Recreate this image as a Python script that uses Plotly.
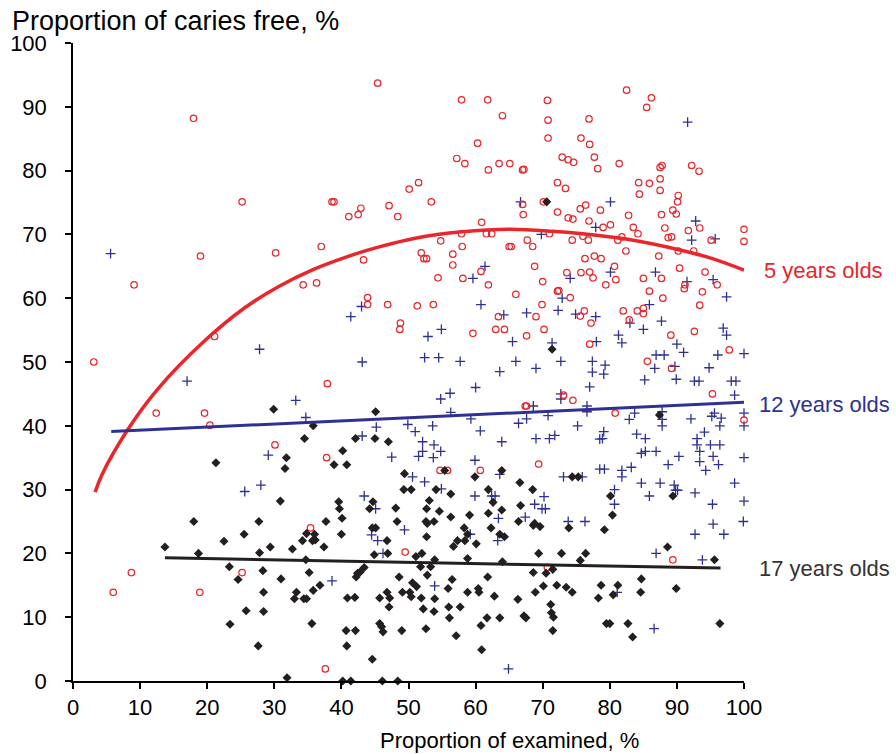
import plotly.graph_objects as go

# ---------------- data ----------------
red_pts = [
    (17.96,88.2),(25.2,75.1),(19.0,66.6),
    (45.4,93.7),(50.1,77.1),(38.6,75.1),(38.9,75.1),(42.9,74.1),(47.1,74.5),(41.1,72.8),(42.5,73.1),(48.4,72.8),(37.0,68.1),(30.2,67.1),(43.3,66.0),
    (57.9,91.1),(61.8,91.1),(70.7,91.0),(64.0,88.6),(70.8,87.9),(70.8,85.1),(75.7,85.1),(60.3,84.3),(57.2,81.9),(58.4,81.1),(61.9,80.1),(63.5,81.1),(65.1,81.1),(67.0,80.1),(67.2,80.2),(72.9,82.1),(73.8,81.7),(74.6,81.3),(51.5,78.1),(72.2,78.1),(73.4,77.2),(53.4,75.1),(67.0,74.7),(70.1,75.1),(67.1,73.1),(72.2,73.5),(75.6,74.0),(73.8,72.6),(74.5,72.4),(60.9,71.9),(57.9,70.1),(61.6,70.1),(62.4,70.1),(71.0,70.1),(54.8,69.0),(58.0,68.1),(65.0,68.1),(65.3,68.1),(67.7,69.1),(68.5,68.1),(74.4,69.1),(51.9,67.1),(52.3,66.2),(52.7,66.2),(56.6,66.9),
    (82.5,92.6),(86.2,91.4),(85.5,89.9),(76.9,88.1),(77.0,84.1),(77.7,82.1),(78.2,80.3),(81.4,81.1),(87.5,80.5),(87.8,80.8),(92.2,80.8),(93.3,79.9),(84.3,78.1),(85.9,78.0),(87.5,78.7),(84.4,76.3),(87.5,76.9),(90.2,76.1),(90.1,75.1),(76.4,74.6),(78.6,73.8),(82.8,73.0),(87.7,73.1),(89.4,73.8),(89.9,73.2),(76.9,72.1),(79.0,71.1),(80.1,71.5),(83.5,71.1),(84.2,70.1),(88.2,71.0),(91.7,70.6),(93.4,71.0),(100.0,70.8),(100.0,68.9),(76.0,69.7),(76.8,69.1),(81.2,69.1),(81.8,69.6),(88.7,69.5),(89.2,69.6),(95.1,69.1),(82.4,67.4),(90.2,67.4),(92.5,67.4),(77.7,66.6),(78.7,66.2),(87.3,66.6),(76.3,66.2),
    (9.1,62.1),(21.1,54.0),(3.1,50.0),(12.4,42.0),(19.6,42.0),(20.4,40.1),
    (34.3,62.1),(36.3,62.4),(43.9,60.1),(43.9,59.0),(46.9,59.0),(48.8,56.1),(48.7,55.1),(37.9,46.6),(30.1,37.0),(37.8,35.0),
    (56.6,65.2),(60.8,64.2),(68.8,65.0),(73.6,64.0),(75.7,64.0),(54.4,63.2),(58.1,63.1),(70.0,62.6),(61.9,62.1),(72.2,61.1),(72.4,61.2),(66.0,60.6),(74.1,60.1),(51.3,58.8),(53.7,59.0),(69.9,59.0),(63.4,57.1),(69.0,57.1),(75.6,57.2),(59.6,54.5),(63.0,55.1),(64.3,55.1),(67.6,54.1),(70.2,55.1),(73.1,44.8),(74.5,44.0),(67.4,43.1),(67.6,43.1),(69.4,34.0),(54.7,33.0),(55.8,33.0),(60.7,33.0),
    (77.0,64.1),(77.5,63.2),(80.7,65.0),(80.9,62.9),(79.4,62.1),(85.0,63.1),(87.7,63.1),(90.4,64.7),(94.2,64.1),(96.0,62.1),(91.2,62.1),(91.1,61.5),(93.8,61.0),(85.9,61.1),(87.9,60.0),(93.4,58.9),(76.2,58.0),(77.2,56.1),(82.0,58.0),(84.1,58.0),(85.0,58.4),(85.0,57.6),(82.9,56.6),(77.0,52.8),(89.1,54.2),(92.6,54.8),(97.8,51.9),(85.6,50.1),(89.2,49.0),(95.3,45.0),(80.8,42.0),(100.0,40.9),
    (8.7,17.0),(6.0,13.9),(18.9,13.9),(25.2,17.0),
    (35.4,24.0),(49.5,20.2),(37.6,1.9),(70.7,17.8),(89.4,19.0),
]
blue_pts = [
    (5.6,67.0),(66.7,75.1),(69.8,70.0),(91.6,87.6),(80.1,75.1),(77.9,71.1),(92.8,72.1),(92.2,69.1),(95.7,69.3),
    (17.0,47.0),
    (43.0,58.7),(41.4,57.1),(27.8,52.0),(43.1,50.0),(33.2,44.0),(34.7,41.3),(45.2,39.8),(49.9,40.2),(43.1,38.4),(29.1,35.4),(47.5,35.1),
    (61.4,65.0),(59.6,63.1),(74.1,63.1),(60.8,59.0),(72.9,60.0),(64.2,57.4),(67.6,57.7),(72.3,58.1),(74.9,57.5),(54.9,55.1),(52.9,54.0),(65.5,53.2),(71.4,53.0),(52.4,50.7),(54.5,50.7),(57.7,50.1),(66.0,50.1),(72.7,50.1),(63.6,48.5),(69.0,49.0),(60.0,46.0),(56.2,45.1),(54.8,44.2),(72.7,45.0),(72.7,44.2),(68.6,43.1),(56.3,42.1),(59.3,41.1),(67.6,41.1),(70.8,41.6),(53.6,40.0),(66.4,40.4),(75.2,40.0),(51.0,39.1),(60.7,39.2),(52.1,37.5),(53.8,37.0),(69.0,38.0),(71.0,38.0),(71.8,38.5),(63.9,37.5),(52.1,36.0),(54.8,36.0),(51.5,35.2),(53.7,35.0),(59.9,34.6),
    (80.1,64.1),(86.8,64.1),(91.5,62.6),(95.4,62.9),(97.4,60.2),(85.9,59.0),(77.9,57.1),(83.0,56.1),(87.7,56.4),(85.0,55.1),(96.9,55.3),(97.4,54.2),(81.3,54.2),(81.8,53.0),(78.0,53.2),(90.0,52.8),(91.0,51.5),(86.9,51.1),(88.1,51.1),(96.1,51.1),(100.0,51.3),(77.4,50.1),(79.3,49.5),(77.4,48.4),(79.1,48.1),(86.7,49.0),(89.7,49.3),(94.8,49.1),(85.2,47.2),(89.9,47.3),(92.6,47.0),(93.3,47.0),(98.1,47.0),(98.8,47.0),(77.0,46.1),(98.6,44.8),(76.6,43.1),(76.6,42.2),(83.7,42.0),(87.8,42.2),(82.9,41.0),(87.8,41.0),(87.8,40.0),(92.1,41.1),(95.2,41.5),(95.6,42.0),(96.6,41.2),(96.4,40.0),(100.0,42.0),(100.0,40.0),(94.1,39.0),(84.0,38.7),(79.1,39.1),(78.9,38.0),(78.5,37.9),(85.3,38.0),(93.0,38.0),(93.0,37.0),(95.0,37.0),(96.4,37.0),(84.7,35.7),(85.3,36.0),(86.9,36.0),(93.4,36.0),(90.3,35.2),(95.4,35.2),(100.0,35.0),(88.7,33.9),(93.4,34.4),(96.2,33.9),(83.2,33.5),(78.5,33.2),(79.2,33.2),(81.8,33.0),(94.3,33.0),
    (25.6,29.7),
    (28.0,30.7),(43.4,29.0),(45.1,27.0),(44.5,22.9),(45.4,22.0),(46.2,20.0),(49.4,23.7),(38.6,15.7),(50.6,32.0),
    (52.4,31.2),(54.9,30.1),(59.9,29.0),(62.4,29.0),(62.9,29.0),(63.6,32.4),(73.1,32.0),(70.2,28.9),(68.8,27.7),(69.9,27.0),(70.4,27.0),(67.4,25.7),(63.4,25.5),(73.8,25.0),(59.2,23.0),(63.3,22.0),(53.9,14.9),(64.9,1.9),
    (75.9,32.0),(81.8,32.0),(84.7,31.0),(87.5,31.0),(89.6,30.7),(89.8,29.9),(90.1,29.9),(98.6,31.0),(80.7,30.0),(85.9,29.0),(92.7,29.5),(80.7,27.7),(95.3,27.7),(100.0,28.2),(76.3,25.0),(95.4,24.6),(99.9,25.0),(92.7,23.0),(97.0,23.0),(86.9,20.0),(93.8,19.0),(81.1,13.9),(86.6,8.2),
]
black_pts = [
    (70.6,75.1),(21.3,34.2),
    (29.9,42.6),(45.1,42.2),(35.8,40.0),(34.5,38.0),(42.1,38.0),(45.0,38.0),(47.0,37.5),(40.2,36.1),(31.8,35.0),(38.9,33.9),(40.8,33.9),(31.6,33.3),(49.4,32.5),
    (71.4,52.0),(55.4,33.0),(63.9,33.0),(87.4,41.7),
    (18.0,25.0),(13.7,21.0),(18.7,20.0),(22.5,21.9),(25.5,23.0),(23.3,17.9),(24.6,15.9),(25.8,11.0),(23.4,8.9),
    (49.3,30.0),(50.4,30.0),(30.9,28.2),(39.6,28.1),(39.7,27.0),(44.7,28.1),(44.2,27.0),(48.1,27.1),(27.7,25.0),(37.7,25.0),(40.1,25.5),(48.3,25.0),(34.8,23.1),(36.0,23.0),(40.0,23.0),(44.6,24.0),(45.1,24.0),(34.2,22.0),(35.7,22.0),(36.1,22.1),(37.4,21.0),(29.4,21.0),(32.7,20.7),(27.8,20.1),(46.8,22.0),(44.9,19.8),(46.9,20.0),(34.7,19.0),(35.2,17.0),(28.3,17.3),(31.0,16.0),(36.8,15.0),(35.8,14.2),(33.3,13.9),(33.0,12.9),(34.4,12.9),(34.8,12.9),(43.4,17.8),(42.8,17.1),(42.2,16.3),(42.4,16.9),(40.9,13.0),(42.0,13.1),(45.7,13.0),(46.8,13.9),(47.2,13.0),(47.1,11.6),(48.6,16.3),(49.1,13.9),(50.2,13.9),(50.4,13.2),(28.4,10.9),(28.4,13.9),(35.6,9.0),(40.7,7.9),(42.1,7.9),(45.7,9.0),(46.0,8.5),(46.2,7.7),(49.0,7.9),(27.6,5.5),(40.8,5.5),(44.6,3.4),(31.9,0.5),(40.2,0.0),(41.4,0.0),(46.1,0.0),(48.4,0.0),
    (59.9,32.0),(74.4,32.0),(75.3,32.0),(66.6,31.1),(54.1,30.0),(56.3,29.3),(61.9,30.0),(68.5,30.0),(53.1,28.3),(62.6,28.0),(66.7,27.5),(52.7,27.0),(54.6,26.6),(63.9,26.8),(56.3,25.7),(59.1,26.0),(61.9,26.3),(52.6,25.0),(52.8,24.7),(53.8,25.0),(58.3,24.0),(62.3,24.0),(66.4,25.0),(68.6,24.4),(68.8,24.7),(69.6,24.2),(73.9,24.0),(52.7,22.6),(57.3,22.0),(58.4,22.0),(58.8,23.0),(56.7,21.1),(60.1,21.5),(63.6,23.0),(64.3,22.6),(52.0,20.0),(51.1,19.5),(53.9,19.0),(58.8,19.2),(64.0,18.7),(69.4,20.0),(72.8,20.0),(75.6,18.9),(51.8,17.9),(53.3,17.9),(52.8,16.6),(56.5,15.9),(61.8,16.3),(68.6,17.0),(70.5,16.9),(71.5,17.5),(50.6,15.4),(51.2,14.8),(55.9,14.5),(58.8,13.9),(60.4,14.5),(60.5,13.9),(62.8,13.3),(51.9,13.0),(53.9,12.9),(66.3,12.8),(68.9,13.9),(70.1,14.9),(72.1,15.0),(73.5,14.7),(74.4,13.9),(52.2,11.3),(53.8,10.9),(56.0,11.6),(57.7,11.6),(56.1,9.9),(61.7,9.9),(63.6,9.9),(67.2,10.2),(67.5,9.9),(71.2,12.0),(71.3,10.7),(71.6,10.0),(71.5,7.9),(60.8,8.7),(52.6,8.2),(57.1,7.1),(60.9,4.9),
    (80.1,29.0),(89.4,29.0),(80.4,26.0),(79.2,23.7),(76.4,20.0),(88.6,21.0),(95.6,19.0),(84.7,16.0),(78.7,15.0),(81.2,15.0),(78.3,13.0),(80.5,13.5),(84.6,13.9),(89.9,14.5),(79.5,9.0),(80.0,9.0),(82.7,9.0),(83.4,6.9),(96.4,9.0),
]

# fitted trend lines
curve5_x = [3.3, 4.3, 8.1, 12.5, 19.5, 25.6, 30.6, 35.6, 42.0, 45.5, 51.0, 58.0, 65.0, 71.4, 75.9, 82.9, 90.3, 95.3, 100.0]
curve5_y = [29.6, 32.3, 39.3, 45.6, 53.2, 58.5, 61.8, 64.4, 66.9, 68.0, 69.4, 70.4, 70.8, 70.5, 70.1, 69.2, 67.6, 66.2, 64.4]
line12_x = [5.7, 100.0]
line12_y = [39.1, 43.7]
line17_x = [13.7, 96.5]
line17_y = [19.3, 17.7]

x_ticks = list(range(0, 101, 10))
y_ticks = list(range(0, 101, 10))

series_labels = ["5 years olds", "12 years olds", "17 years olds"]
x_title = "Proportion of examined, %"
y_title = "Proportion of caries free, %"

RED = "#E8262B"
BLUE = "#2E3192"
BLACK = "#231F20"
FONT = "Liberation Sans, Arial, sans-serif"

fig = go.Figure()

fig.add_trace(go.Scatter(
    x=[p[0] for p in blue_pts], y=[p[1] for p in blue_pts], mode="markers",
    marker=dict(symbol="cross-thin-open", size=7, line=dict(color=BLUE, width=1.3), color=BLUE),
    cliponaxis=False, hoverinfo="skip"))
fig.add_trace(go.Scatter(
    x=[p[0] for p in red_pts], y=[p[1] for p in red_pts], mode="markers",
    marker=dict(symbol="circle-open", size=6.5, line=dict(color=RED, width=1.2), color=RED),
    cliponaxis=False, hoverinfo="skip"))
fig.add_trace(go.Scatter(
    x=[p[0] for p in black_pts], y=[p[1] for p in black_pts], mode="markers",
    marker=dict(symbol="diamond", size=7, color=BLACK, line=dict(width=0)),
    cliponaxis=False, hoverinfo="skip"))

fig.add_trace(go.Scatter(x=curve5_x, y=curve5_y, mode="lines",
                         line=dict(color=RED, width=3.5, shape="spline", smoothing=1.0),
                         cliponaxis=False, hoverinfo="skip"))
fig.add_trace(go.Scatter(x=line12_x, y=line12_y, mode="lines",
                         line=dict(color=BLUE, width=3), cliponaxis=False, hoverinfo="skip"))
fig.add_trace(go.Scatter(x=line17_x, y=line17_y, mode="lines",
                         line=dict(color=BLACK, width=3), cliponaxis=False, hoverinfo="skip"))

axis_common = dict(showline=True, linecolor="black", linewidth=1.5, ticks="outside",
                   ticklen=6, tickwidth=1.5, tickcolor="black", showgrid=False, zeroline=False,
                   automargin=False,
                   tickfont=dict(family=FONT, size=22, color="black"))

fig.update_layout(
    width=896, height=754,
    margin=dict(l=73, r=152, t=43, b=73),
    paper_bgcolor="white", plot_bgcolor="white",
    showlegend=False,
    xaxis=dict(range=[0, 100], tickvals=x_ticks, **axis_common),
    yaxis=dict(range=[0, 100], tickvals=y_ticks, ticklabelstandoff=14, **axis_common),
    annotations=[
        dict(text=y_title, xref="paper", yref="paper", x=-0.094, y=1.035,
             xanchor="left", yanchor="middle", showarrow=False,
             font=dict(family=FONT, size=27, color="black")),
        dict(text=x_title, xref="paper", yref="paper", x=0.65, y=-0.094,
             xanchor="center", yanchor="middle", showarrow=False,
             font=dict(family=FONT, size=22, color="black")),
        dict(text=series_labels[0], xref="paper", yref="paper", x=1.027, y=0.643,
             xanchor="left", yanchor="middle", showarrow=False,
             font=dict(family=FONT, size=22, color=RED)),
        dict(text=series_labels[1], xref="paper", yref="paper", x=1.019, y=0.434,
             xanchor="left", yanchor="middle", showarrow=False,
             font=dict(family=FONT, size=22, color=BLUE)),
        dict(text=series_labels[2], xref="paper", yref="paper", x=1.019, y=0.176,
             xanchor="left", yanchor="middle", showarrow=False,
             font=dict(family=FONT, size=22, color="#333333")),
    ],
)

# remove the browser's default 8px page margin so the figure fills the window exactly
fig.write_html("out.html", config={"displayModeBar": False},
               post_script="document.body.style.margin='0';")
